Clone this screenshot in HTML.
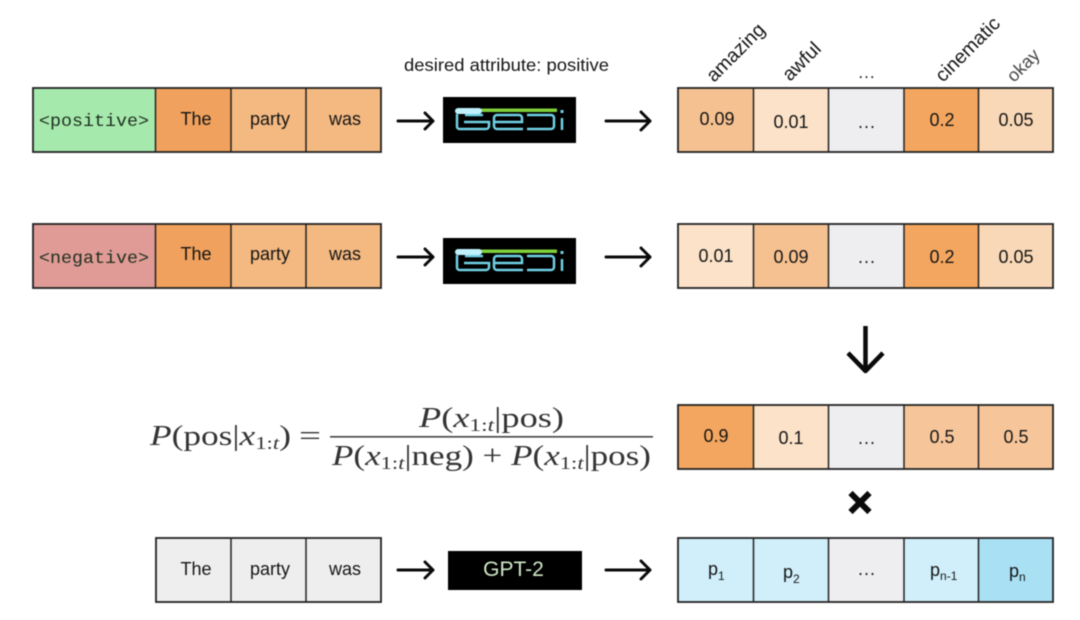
<!DOCTYPE html>
<html><head><meta charset="utf-8"><style>
html,body{margin:0;padding:0;background:#fff;width:1080px;height:620px;overflow:hidden}
svg{display:block;filter:blur(.45px)}
text{font-family:"Liberation Sans",sans-serif;fill:#151515}
.c{font-size:18px;text-anchor:middle}
.m{font-family:"Liberation Mono",monospace;font-size:17.5px;fill:#1f2f1f}
.b{fill:none;stroke:#222;stroke-width:1.8}
.d{stroke:#222;stroke-width:1.5}
.a{fill:none;stroke:#0a0a0a;stroke-width:3;stroke-linecap:round;stroke-linejoin:round}
.f{font-family:"Liberation Serif",serif;font-size:28px;fill:#333}
.i{font-style:italic}
.s{font-size:18px}
.g{fill:none;stroke:#6fd0e4;stroke-width:2.5}
</style></head><body>
<svg width="1080" height="620" viewBox="0 0 1080 620" xmlns="http://www.w3.org/2000/svg">
<defs>
<g id="gedi">
<rect x="0" y="0" width="133" height="46" fill="#000"/>
<rect x="38" y="11.5" width="76" height="3.5" fill="#7fd13a"/>
<path class="g" d="M14 17V29.500a2.500 2.500 0 0 0 2.500 2.500H43a3 3 0 0 0 3-3V25H21"/>
<path class="g" d="M22 18H40"/>
<rect x="12" y="11" width="27" height="6" rx="3" fill="#bfeffa"/>
<path class="g" d="M80 32H54a3 3 0 0 1-3-3V21a3 3 0 0 1 3-3H76a3 3 0 0 1 3 3V25H51"/>
<path class="g" d="M84 18H108a3 3 0 0 1 3 3V29a3 3 0 0 1-3 3H84"/>
<path class="g" d="M119 21V33"/>
<rect x="117.500" y="13" width="3" height="3" fill="#6fd0e4"/>
</g>
<g id="ar"><path class="a" d="M0 0H35M27-8L35 0L27 8" /></g>
<g id="ar2"><path class="a" d="M0 0H44M35-9L44 0L35 9" /></g>
</defs>

<!-- Row 1 left -->
<rect x="33" y="88" width="122.500" height="64" fill="#a6e9ad"/>
<rect x="155.500" y="88" width="75.500" height="64" fill="#f0a15d"/>
<rect x="231" y="88" width="150" height="64" fill="#f4b981"/>
<rect x="33" y="88" width="348" height="64" class="b"/>
<path class="d" d="M155.500 88V152M231 88V152M306 88V152"/>
<text class="m" x="39" y="126" textLength="110" lengthAdjust="spacingAndGlyphs">&lt;positive&gt;</text>
<text class="c" x="196" y="125">The</text>
<text class="c" x="270" y="125">party</text>
<text class="c" x="345" y="125">was</text>

<!-- Row 2 left -->
<rect x="33" y="224" width="122.500" height="64" fill="#e09b96"/>
<rect x="155.500" y="224" width="75.500" height="64" fill="#f0a15d"/>
<rect x="231" y="224" width="150" height="64" fill="#f4b981"/>
<rect x="33" y="224" width="348" height="64" class="b"/>
<path class="d" d="M155.500 224V288M231 224V288M306 224V288"/>
<text class="m" x="39" y="263" textLength="110" lengthAdjust="spacingAndGlyphs">&lt;negative&gt;</text>
<text class="c" x="196" y="260">The</text>
<text class="c" x="270" y="260">party</text>
<text class="c" x="345" y="260">was</text>

<!-- Row 4 left -->
<rect x="156" y="538" width="225" height="64" fill="#eeeeef"/>
<rect x="156" y="538" width="225" height="64" class="b"/>
<path class="d" d="M231 538V602M306 538V602"/>
<text class="c" x="196" y="575">The</text>
<text class="c" x="270" y="575">party</text>
<text class="c" x="345" y="575">was</text>

<!-- Arrows and models -->
<use href="#ar" x="398" y="121"/><use href="#ar2" x="606" y="121"/>
<use href="#ar" x="398" y="257"/><use href="#ar2" x="606" y="257"/>
<use href="#ar" x="398" y="570"/><use href="#ar2" x="606" y="570"/>
<text x="404" y="71" font-size="17.500" textLength="205" lengthAdjust="spacingAndGlyphs">desired attribute: positive</text>
<use href="#gedi" x="443" y="97"/>
<use href="#gedi" x="443" y="238"/>
<rect x="448" y="551" width="134" height="39" fill="#000"/>
<text x="513.500" y="576" font-size="21" text-anchor="middle" style="fill:#cfe8c8">GPT-2</text>

<!-- Rotated labels -->
<text font-size="19.500" transform="translate(714 83) rotate(-45)">amazing</text>
<text font-size="19.500" transform="translate(790 82) rotate(-45)">awful</text>
<text font-size="17" x="867" y="78" text-anchor="middle" letter-spacing="1">...</text>
<text font-size="19.500" transform="translate(943 83) rotate(-45)">cinematic</text>
<text font-size="18" style="fill:#444" transform="translate(1014 83) rotate(-45)">okay</text>

<!-- Row 1 right -->
<rect x="678" y="88" width="75.500" height="64" fill="#f6c190"/>
<rect x="753.500" y="88" width="75" height="64" fill="#fbe2c8"/>
<rect x="828.500" y="88" width="75.500" height="64" fill="#eeeef0"/>
<rect x="904" y="88" width="74.500" height="64" fill="#f3a65f"/>
<rect x="978.500" y="88" width="74.500" height="64" fill="#f8d8b6"/>
<rect x="678" y="88" width="375" height="64" class="b"/>
<path class="d" d="M753.500 88V152M828.500 88V152M904 88V152M978.500 88V152"/>
<text class="c" x="717" y="125">0.09</text>
<text class="c" x="791" y="128">0.01</text>
<text class="c" x="867" y="128" letter-spacing="1">...</text>
<text class="c" x="942" y="126">0.2</text>
<text class="c" x="1016" y="126">0.05</text>

<!-- Row 2 right -->
<rect x="678" y="224" width="75.500" height="64" fill="#fbe2c8"/>
<rect x="753.500" y="224" width="75" height="64" fill="#f6c190"/>
<rect x="828.500" y="224" width="75.500" height="64" fill="#eeeef0"/>
<rect x="904" y="224" width="74.500" height="64" fill="#f3a65f"/>
<rect x="978.500" y="224" width="74.500" height="64" fill="#f8d8b6"/>
<rect x="678" y="224" width="375" height="64" class="b"/>
<path class="d" d="M753.500 224V288M828.500 224V288M904 224V288M978.500 224V288"/>
<text class="c" x="716" y="262">0.01</text>
<text class="c" x="791" y="263">0.09</text>
<text class="c" x="867" y="263" letter-spacing="1">...</text>
<text class="c" x="942" y="263">0.2</text>
<text class="c" x="1016" y="263">0.05</text>

<!-- Down arrow -->
<path d="M865.500 326V371M848 353L865.500 371L883 353" fill="none" stroke="#0a0a0a" stroke-width="4.500" stroke-linejoin="round"/>

<!-- Row 3 right -->
<rect x="678" y="405" width="75.500" height="64" fill="#f3a65f"/>
<rect x="753.500" y="405" width="75" height="64" fill="#fbe2c8"/>
<rect x="828.500" y="405" width="75.500" height="64" fill="#eeeef0"/>
<rect x="904" y="405" width="149" height="64" fill="#f6c69a"/>
<rect x="678" y="405" width="375" height="64" class="b"/>
<path class="d" d="M753.500 405V469M828.500 405V469M904 405V469M978.500 405V469"/>
<text class="c" x="716" y="442">0.9</text>
<text class="c" x="791" y="444">0.1</text>
<text class="c" x="867" y="444" letter-spacing="1">...</text>
<text class="c" x="942" y="443">0.5</text>
<text class="c" x="1016" y="443">0.5</text>

<!-- Times -->
<path d="M850.500 493L869.500 512M869.500 493L850.500 512" stroke="#0a0a0a" stroke-width="6" fill="none"/>

<!-- Row 4 right -->
<rect x="678" y="538" width="226" height="64" fill="#d0effb"/>
<rect x="828.500" y="538" width="75.500" height="64" fill="#eeeef0"/>
<rect x="904" y="538" width="74.500" height="64" fill="#d0effb"/>
<rect x="978.500" y="538" width="74.500" height="64" fill="#a9e0f3"/>
<rect x="678" y="538" width="375" height="64" class="b"/>
<path class="d" d="M753.500 538V602M828.500 538V602M904 538V602M978.500 538V602"/>
<text font-size="18" x="708" y="575">p<tspan font-size="12" dy="5">1</tspan></text>
<text font-size="18" x="783" y="578">p<tspan font-size="12" dy="5">2</tspan></text>
<text class="c" x="867" y="575" letter-spacing="1">...</text>
<text font-size="18" x="930" y="576">p<tspan font-size="12" dy="4">n-1</tspan></text>
<text font-size="18" x="1009" y="577">p<tspan font-size="12" dy="4">n</tspan></text>

<!-- Formula -->
<text class="f" x="150" y="445" textLength="141" lengthAdjust="spacingAndGlyphs"><tspan class="i">P</tspan>(pos|<tspan class="i">x</tspan><tspan class="s" dy="4">1:<tspan class="i">t</tspan></tspan><tspan dy="-4">)</tspan></text>
<text class="f" x="299" y="445" textLength="22" lengthAdjust="spacingAndGlyphs">=</text>
<text class="f" x="419" y="427" textLength="145" lengthAdjust="spacingAndGlyphs"><tspan class="i">P</tspan>(<tspan class="i">x</tspan><tspan class="s" dy="4">1:<tspan class="i">t</tspan></tspan><tspan dy="-4">|pos)</tspan></text>
<rect x="330" y="436" width="323" height="1.600" fill="#444"/>
<text class="f" x="332" y="465" textLength="319" lengthAdjust="spacingAndGlyphs"><tspan class="i">P</tspan>(<tspan class="i">x</tspan><tspan class="s" dy="4">1:<tspan class="i">t</tspan></tspan><tspan dy="-4">|neg) + </tspan><tspan class="i">P</tspan>(<tspan class="i">x</tspan><tspan class="s" dy="4">1:<tspan class="i">t</tspan></tspan><tspan dy="-4">|pos)</tspan></text>
</svg>
</body></html>
